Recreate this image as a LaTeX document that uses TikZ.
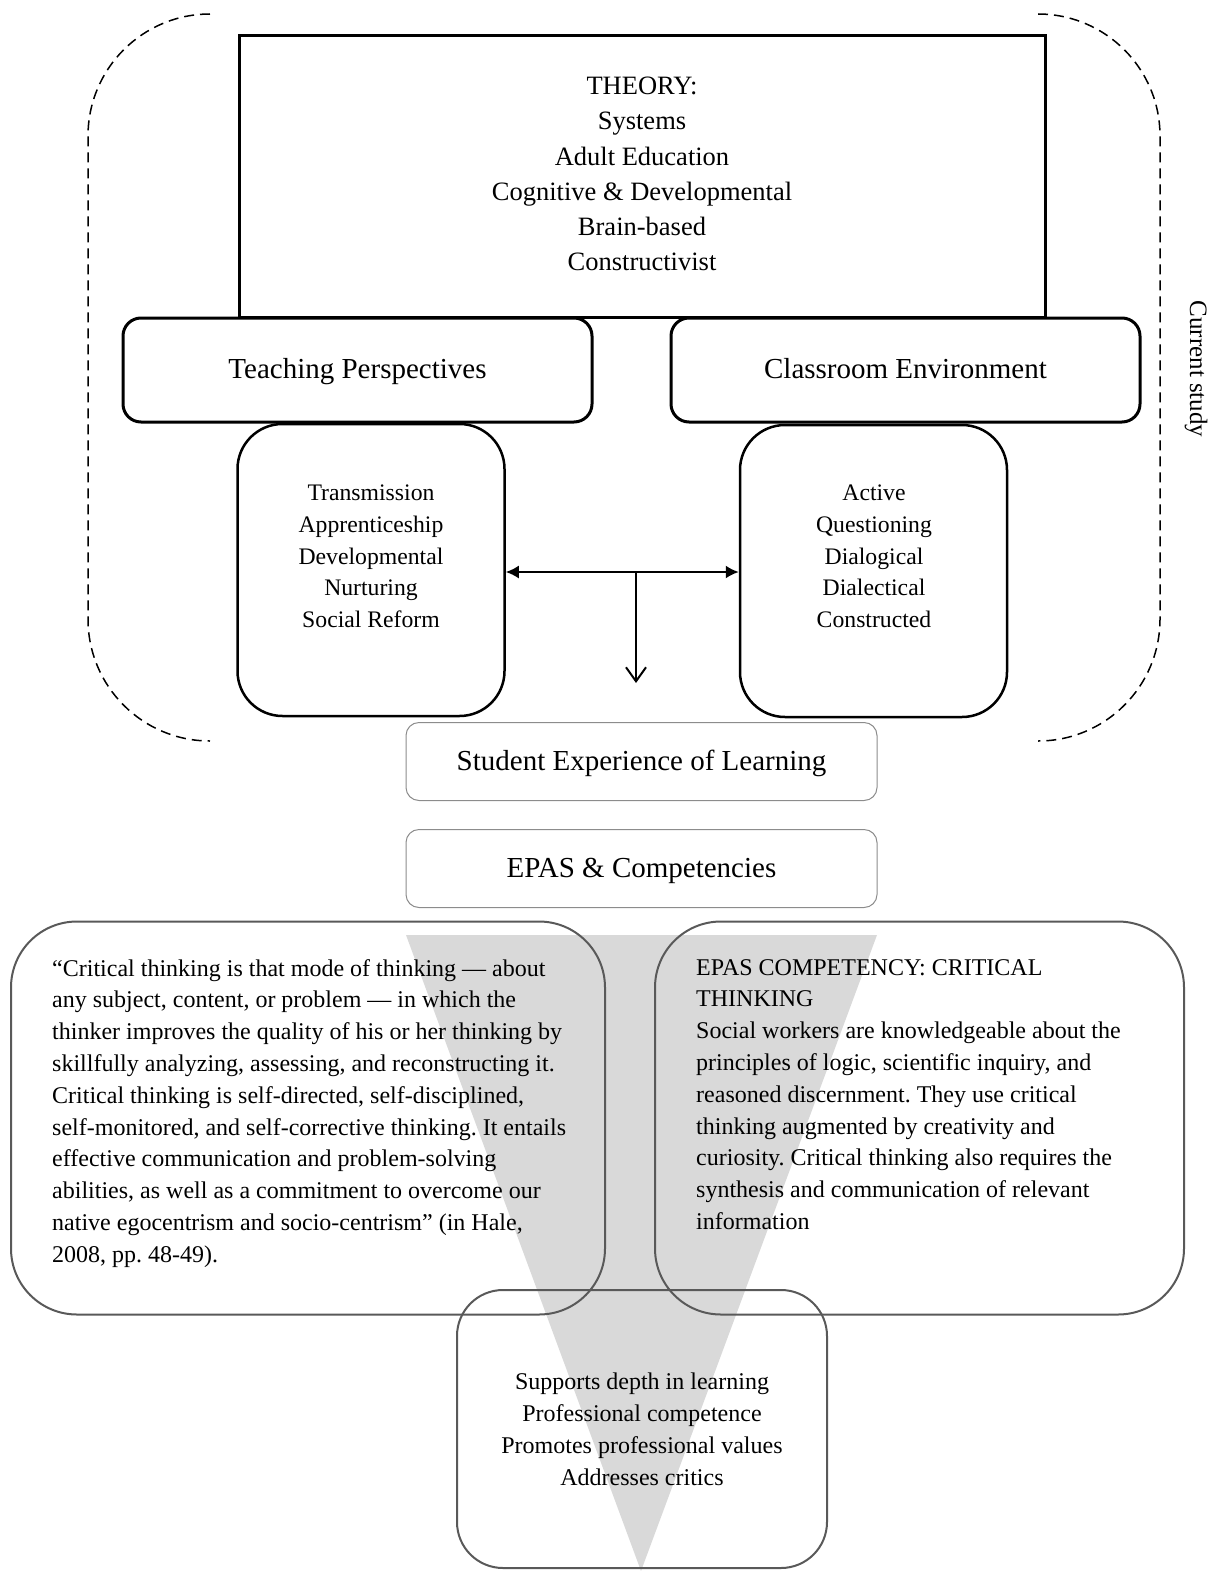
\documentclass[tikz,border=0pt]{standalone}
\usepackage{fontspec}
\setmainfont{Liberation Serif}
\frenchspacing
\usetikzlibrary{arrows.meta}
\definecolor{lightborder}{RGB}{140,140,140}
\definecolor{darkborder}{RGB}{89,89,89}
\definecolor{wedgegray}{RGB}{217,217,217}
\tikzset{
  theorybox/.style={draw, line width=3pt, fill=white, minimum width=806pt, minimum height=281pt, inner sep=0pt},
  headbox/.style={draw, line width=3pt, fill=white, rounded corners=18pt, minimum width=469pt, minimum height=104pt, inner sep=0pt, text height=20pt, text depth=3pt, font=\fontsize{29}{34}\selectfont},
  listbox/.style={draw, line width=2.5pt, fill=white, rounded corners=45pt, minimum width=267pt, minimum height=292pt, inner sep=0pt},
  thinbox/.style={draw=lightborder, line width=1pt, fill=white, rounded corners=13pt, minimum width=471pt, minimum height=78pt, inner sep=0pt, text height=20pt, text depth=3pt, font=\fontsize{29}{34}\selectfont},
  bigbox/.style={draw=darkborder, line width=2pt, rounded corners=66pt, minimum height=393pt, inner sep=0pt},
  bottombox/.style={draw=darkborder, line width=2pt, rounded corners=46pt, minimum width=370pt, minimum height=278pt, inner sep=0pt},
  theorytext/.style={font=\fontsize{26.5}{35.2}\selectfont, align=center, inner sep=0pt},
  listtext/.style={font=\fontsize{23.7}{31.75}\selectfont, align=center, inner sep=0pt},
  paratext/.style={font=\fontsize{24}{31.8}\selectfont, align=left, inner sep=0pt, anchor=north west},
  centertext/.style={font=\fontsize{24}{32}\selectfont, align=center, inner sep=0pt},
  bracket/.style={line width=1.5pt, dash pattern=on 10pt off 6pt, rounded corners=122pt},
  conn/.style={line width=2pt},
}
\begin{document}
\begin{tikzpicture}[x=1pt,y=-1pt]
\useasboundingbox (0,0) rectangle (1222,1571);

% grey wedge behind the lower boxes
\fill[wedgegray] (406,935) -- (877,935) -- (641,1571) -- cycle;

% dashed brackets
\draw[bracket] (210,14) -| (88,741) -- (210,741);
\draw[bracket] (1038,14) -| (1160,741) -- (1038,741);
\node[font=\fontsize{25}{30}\selectfont, rotate=-90, inner sep=0pt] (current) at (1196,369) {Current study};

% theory
\node[theorybox] (theory) at (642.5,176.5) {};
\node[theorytext] (theorylabel) at (642,174) {THEORY:\\Systems\\Adult Education\\Cognitive \& Developmental\\Brain-based\\Constructivist};

% heads
\node[headbox] (teach) at (357.5,370) {Teaching Perspectives};
\node[headbox] (class) at (905.5,370) {Classroom Environment};

% lists
\node[listbox] (tlist) at (371,570) {};
\node[listbox] (clist) at (873.5,571) {};
\node[listtext] (tlisttext) at (371,556.5) {Transmission\\Apprenticeship\\Developmental\\Nurturing\\Social Reform};
\node[listtext] (clisttext) at (874,556.5) {Active\\Questioning\\Dialogical\\Dialectical\\Constructed};

% connectors
\coordinate (junction) at (636,572);
\coordinate (downend) at (636,683);
\draw[conn, {Latex[length=13pt,width=13pt]}-{Latex[length=13pt,width=13pt]}] (tlist.east |- junction) -- (clist.west |- junction);
\draw[conn, -{Straight Barb[length=14pt,width=20pt,line width=2pt]}] (junction) -- (downend);

% thin boxes
\node[thinbox] (student) at (641.5,761.5) {Student Experience of Learning};
\node[thinbox] (epas) at (641.5,868.5) {EPAS \& Competencies};

% big boxes
\node[bigbox, minimum width=594pt] (quote) at (308,1118) {};
\node[bigbox, minimum width=529pt] (comp) at (919.5,1118) {};
\node[bottombox] (outcome) at (642,1429) {};

\node[paratext] (quotetext) at (52,959) {“Critical thinking is that mode of thinking — about\\any subject, content, or problem — in which the\\thinker improves the quality of his or her thinking by\\skillfully analyzing, assessing, and reconstructing it.\\Critical thinking is self-directed, self-disciplined,\\self-monitored, and self-corrective thinking. It entails\\effective communication and problem-solving\\abilities, as well as a commitment to overcome our\\native egocentrism and socio-centrism” (in Hale,\\2008, pp. 48-49).};
\node[paratext] (comptext) at (696,959) {EPAS COMPETENCY: CRITICAL\\THINKING\\Social workers are knowledgeable about the\\principles of logic, scientific inquiry, and\\reasoned discernment. They use critical\\thinking augmented by creativity and\\curiosity. Critical thinking also requires the\\synthesis and communication of relevant\\information};
\node[centertext] (outcometext) at (642,1429) {Supports depth in learning\\Professional competence\\Promotes professional values\\Addresses critics};
\end{tikzpicture}
\end{document}
